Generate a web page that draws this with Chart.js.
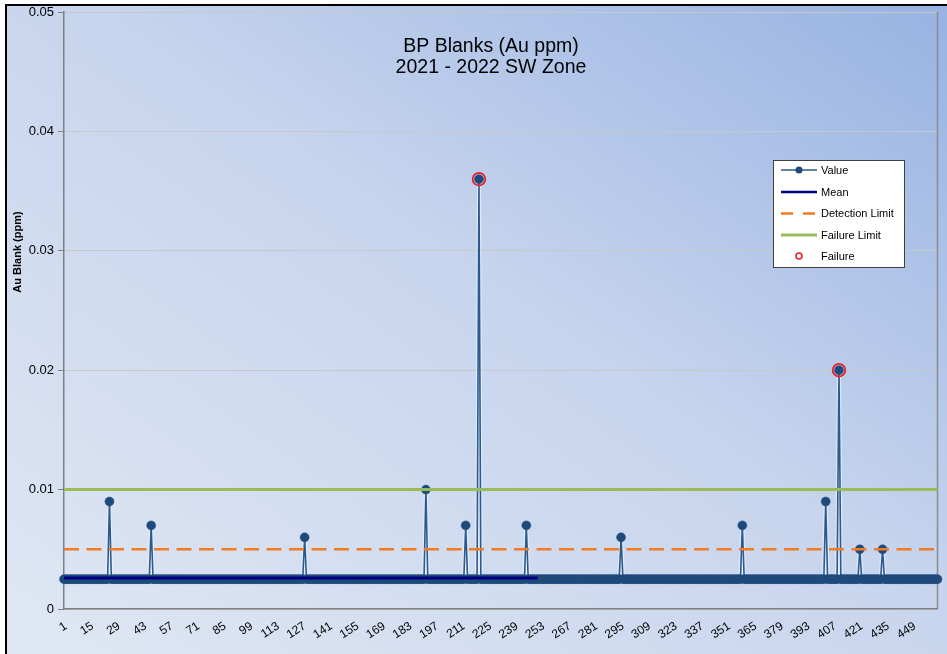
<!DOCTYPE html>
<html>
<head>
<meta charset="utf-8">
<title>BP Blanks (Au ppm)</title>
<script src="https://cdn.jsdelivr.net/npm/chart.js@4.4.1/dist/chart.umd.min.js"></script>
<style>
  html, body { margin: 0; padding: 0; background: #fff; overflow: hidden; }
  #wrap { position: relative; width: 947px; height: 654px; overflow: hidden; }
  #frame {
    position: absolute; left: 5px; top: 4px; width: 960px; height: 670px;
    border: 2px solid #000;
    background: linear-gradient(to top right, #e1e8f4 0%, #c6d4ed 55%, #96b2e2 100%);
  }
  #chart { position: absolute; left: 0; top: 0; }
</style>
</head>
<body>
<div id="wrap">
  <div id="frame"></div>
  <canvas id="chart" width="947" height="654"></canvas>
</div>
<script>
// --- data ---
const sampleCount = 462;
const sampleNo = Array.from({ length: sampleCount }, (_, i) => String(i + 1));
const blankValue = 0.0025;          // results below detection, reported at half the limit
const spikeSamples = [25, 47, 128, 192, 213, 220, 245, 295, 359, 403, 410, 421, 433];
const spikeValues  = [0.009, 0.007, 0.006, 0.010, 0.007, 0.036, 0.007, 0.006, 0.007, 0.009, 0.020, 0.005, 0.005];
const meanValue = 0.0026;
const meanSamples = 251;            // mean series only runs over the first batch
const detectionLimit = 0.005;
const failureLimit = 0.01;
const yTicks = [0, 0.01, 0.02, 0.03, 0.04, 0.05];
const titleLines = ['BP Blanks (Au ppm)', '2021 - 2022 SW Zone'];
const yTitle = 'Au Blank (ppm)';

// series built from the lists above
const auValues = sampleNo.map(() => blankValue);
spikeSamples.forEach((s, i) => { auValues[s - 1] = spikeValues[i]; });
const meanLine = sampleNo.slice(0, meanSamples).map(() => meanValue);
const detectionLine = sampleNo.map(() => detectionLimit);
const failureLine = sampleNo.map(() => failureLimit);
const failures = auValues.map(v => (v > failureLimit ? v : null));

const FONT = '"Liberation Sans", Arial, sans-serif';
Chart.defaults.font.family = FONT;
Chart.defaults.color = '#000';

const COLORS = {
  value: '#1f4a7c',
  valueLine: '#2c5a8e',
  mean: '#000080',
  detection: '#f47b20',
  failLimit: '#9bbb59',
  failure: '#e8202a'
};

// right-hand edge of the plot area
const plotFrame = {
  id: 'plotFrame',
  beforeDatasetsDraw(chart) {
    const { ctx, chartArea: a } = chart;
    ctx.save();
    ctx.strokeStyle = '#8c8c8c';
    ctx.lineWidth = 1.5;
    ctx.beginPath();
    ctx.moveTo(a.right, a.top);
    ctx.lineTo(a.right, a.bottom);
    ctx.stroke();
    ctx.restore();
  }
};

// title, axis title and legend box
const chartText = {
  id: 'chartText',
  afterDraw(chart) {
    const ctx = chart.ctx;
    ctx.save();
    ctx.fillStyle = '#000';
    ctx.textAlign = 'center';
    ctx.textBaseline = 'middle';
    ctx.font = '19.5px ' + FONT;
    ctx.fillText(titleLines[0], 491, 47);
    ctx.fillText(titleLines[1], 491, 68);

    ctx.save();
    ctx.translate(18, 252);
    ctx.rotate(-Math.PI / 2);
    ctx.font = 'bold 11px ' + FONT;
    ctx.fillText(yTitle, 0, 0);
    ctx.restore();

    // legend
    const bx = 773, by = 160, bw = 131, bh = 107;
    ctx.fillStyle = '#fff';
    ctx.fillRect(bx, by, bw, bh);
    ctx.strokeStyle = '#404040';
    ctx.lineWidth = 1;
    ctx.strokeRect(bx + 0.5, by + 0.5, bw, bh);

    const x0 = 781, x1 = 817, xm = 799, tx = 821;
    const rows = [170, 192, 213.5, 235, 256];
    const seg = (y, color, width, dash) => {
      ctx.save();
      ctx.strokeStyle = color;
      ctx.lineWidth = width;
      ctx.setLineDash(dash || []);
      ctx.beginPath();
      ctx.moveTo(x0, y);
      ctx.lineTo(x1, y);
      ctx.stroke();
      ctx.restore();
    };
    seg(rows[0], COLORS.valueLine, 1.3);
    ctx.fillStyle = COLORS.value;
    ctx.beginPath(); ctx.arc(xm, rows[0], 3.5, 0, Math.PI * 2); ctx.fill();
    seg(rows[1], COLORS.mean, 2.5);
    seg(rows[2], COLORS.detection, 2.5, [12, 10]);
    seg(rows[3], COLORS.failLimit, 3);
    ctx.strokeStyle = COLORS.failure;
    ctx.lineWidth = 1.6;
    ctx.beginPath(); ctx.arc(xm, rows[4], 3, 0, Math.PI * 2); ctx.stroke();

    ctx.fillStyle = '#000';
    ctx.textAlign = 'left';
    ctx.font = '11px ' + FONT;
    ['Value', 'Mean', 'Detection Limit', 'Failure Limit', 'Failure'].forEach((t, i) => {
      ctx.fillText(t, tx, rows[i] + 0.5);
    });
    ctx.restore();
  }
};

new Chart(document.getElementById('chart'), {
  type: 'line',
  data: {
    labels: sampleNo,
    datasets: [
      {
        label: 'Failure',
        data: failures,
        showLine: false,
        pointRadius: 6.3,
        pointBorderWidth: 1.8,
        pointBorderColor: COLORS.failure,
        pointBackgroundColor: 'rgba(0,0,0,0)'
      },
      {
        label: 'Failure Limit',
        data: failureLine,
        borderColor: COLORS.failLimit,
        borderWidth: 3,
        pointRadius: 0
      },
      {
        label: 'Detection Limit',
        data: detectionLine,
        borderColor: COLORS.detection,
        borderWidth: 2.5,
        borderDash: [15, 7.5],
        pointRadius: 0
      },
      {
        label: 'Mean',
        data: meanLine,
        borderColor: COLORS.mean,
        borderWidth: 3,
        pointRadius: 0
      },
      {
        label: 'Value',
        data: auValues,
        borderColor: COLORS.valueLine,
        borderWidth: 1.6,
        pointRadius: 4.5,
        pointBorderWidth: 0.5,
        pointBackgroundColor: COLORS.value,
        pointBorderColor: COLORS.value
      },
      {
        // soft light edge under the value line
        label: 'ValueHalo',
        data: auValues,
        borderColor: 'rgba(235,242,252,0.7)',
        borderWidth: 4,
        pointRadius: 0
      }
    ]
  },
  options: {
    responsive: false,
    animation: false,
    events: [],
    layout: { padding: { top: 12, right: 9.5, left: 0, bottom: 0 } },
    elements: { line: { tension: 0 } },
    plugins: {
      legend: { display: false },
      tooltip: { enabled: false },
      title: { display: false }
    },
    scales: {
      x: {
        type: 'category',
        offset: false,
        afterFit(scale) {
          scale.height = 45;
          scale.paddingLeft = 0;
          scale.paddingRight = 0;
        },
        grid: { display: false, drawTicks: false },
        border: { color: '#808080', width: 1.5 },
        ticks: {
          autoSkip: false,
          minRotation: 33,
          maxRotation: 33,
          padding: 10,
          labelOffset: 2,
          font: { size: 12 },
          color: '#000',
          callback(val, idx) { return idx % 14 === 0 ? sampleNo[idx] : ''; }
        }
      },
      y: {
        min: 0,
        max: 0.05,
        afterFit(scale) { scale.width = 64; },
        afterBuildTicks(scale) { scale.ticks = yTicks.map(v => ({ value: v })); },
        grid: { color: '#c8c8c8', lineWidth: 1, tickLength: 6, tickColor: '#808080' },
        border: { color: '#808080', width: 1.5 },
        ticks: {
          padding: 4,
          font: { size: 13 },
          color: '#000',
          callback(v) { return v === 0 ? '0' : String(v); }
        }
      }
    }
  },
  plugins: [plotFrame, chartText]
});
</script>
</body>
</html>
